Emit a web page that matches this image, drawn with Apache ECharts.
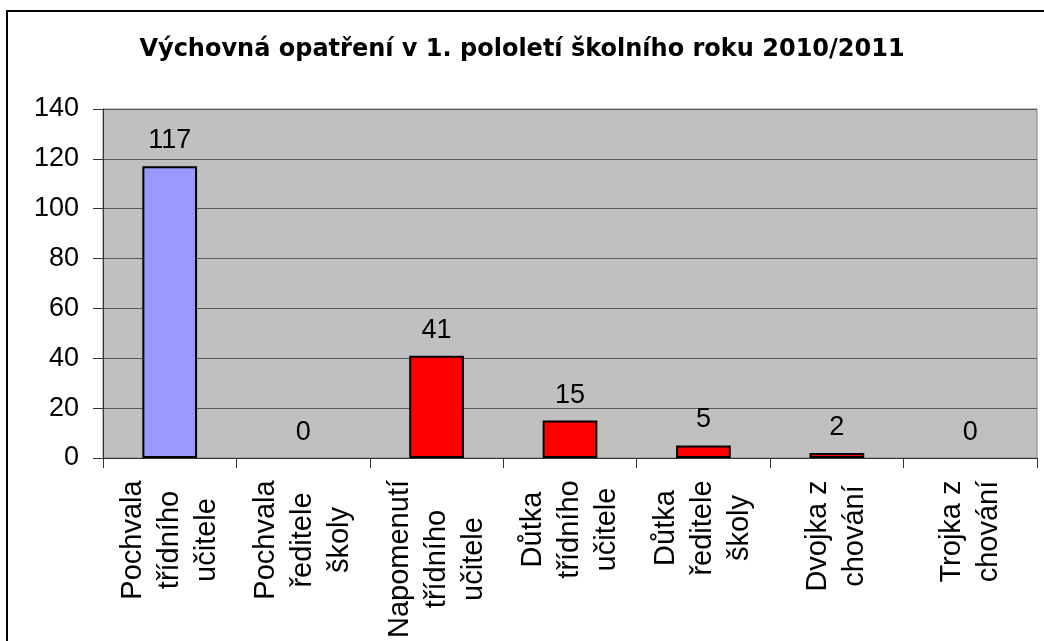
<!DOCTYPE html>
<html>
<head>
<meta charset="utf-8">
<script src="https://cdn.jsdelivr.net/npm/echarts@6/dist/echarts.min.js"></script>
<style>
  html, body { margin: 0; padding: 0; background: #fff; }
  #chart { width: 1044px; height: 641px; }
</style>
</head>
<body>
<div id="chart"></div>
<script>
// chart data
var titleText = 'Výchovná opatření v 1. pololetí školního roku 2010/2011';
var categories = [
  'Pochvala\ntřídního\nučitele',
  'Pochvala\nředitele\nškoly',
  'Napomenutí\ntřídního\nučitele',
  'Důtka\ntřídního\nučitele',
  'Důtka\nředitele\nškoly',
  'Dvojka z\nchování',
  'Trojka z\nchování'
];
var values = [117, 0, 41, 15, 5, 2, 0];
var yTicks = [0, 20, 40, 60, 80, 100, 120, 140];

var labelFamily = '"Liberation Sans", Arial, sans-serif';

// lines of each category label are centred on the widest one
var ctx = document.createElement('canvas').getContext('2d');
ctx.font = '29px ' + labelFamily;
var rich = {};
categories.forEach(function (c, i) {
  var w = 0;
  c.split('\n').forEach(function (l) {
    w = Math.max(w, ctx.measureText(l).width);
  });
  rich['c' + i] = {
    width: Math.ceil(w),
    align: 'center',
    fontSize: 29,
    lineHeight: 37,
    fontFamily: labelFamily,
    color: '#000'
  };
});

var chart = echarts.init(document.getElementById('chart'), null, { renderer: 'canvas' });
chart.setOption({
  backgroundColor: '#ffffff',
  animation: false,
  title: {
    text: titleText,
    left: 'center',
    top: 33,
    textStyle: {
      fontFamily: '"DejaVu Sans", sans-serif',
      fontWeight: 'bold',
      fontSize: 24,
      color: '#000'
    }
  },
  graphic: [{
    type: 'rect',
    shape: { x: 7, y: 11, width: 1100, height: 700 },
    style: { fill: 'none', stroke: '#000', lineWidth: 2 },
    silent: true,
    z: 100
  }],
  grid: {
    left: 103,
    top: 109,
    right: 7,
    bottom: 178,
    show: true,
    backgroundColor: '#C0C0C0',
    borderColor: '#808080',
    borderWidth: 1
  },
  xAxis: {
    type: 'category',
    data: categories,
    axisLine: { lineStyle: { color: '#333', width: 1 } },
    axisTick: { show: true, length: 10, lineStyle: { color: '#333' } },
    axisLabel: {
      interval: 0,
      rotate: 90,
      margin: 22,
      lineHeight: 37,
      formatter: function (value, index) {
        return value.split('\n').map(function (l) {
          return '{c' + index + '|' + l + '}';
        }).join('\n');
      },
      rich: rich
    }
  },
  yAxis: {
    type: 'value',
    min: yTicks[0],
    max: yTicks[yTicks.length - 1],
    interval: 20,
    axisLine: { show: true, lineStyle: { color: '#333', width: 1 } },
    axisTick: { show: true, length: 10, lineStyle: { color: '#333' } },
    axisLabel: {
      margin: 24,
      fontSize: 27,
      fontFamily: labelFamily,
      color: '#000'
    },
    splitLine: { show: true, lineStyle: { color: '#5a5a5a', width: 1 } }
  },
  series: [{
    type: 'bar',
    barWidth: '41%',
    data: values.map(function (v, i) {
      return {
        value: v,
        itemStyle: {
          color: i === 0 ? '#9999FF' : '#FF0000',
          borderWidth: v === 0 ? 0 : 2
        }
      };
    }),
    itemStyle: { borderColor: '#000', borderWidth: 2 },
    label: {
      show: true,
      position: 'top',
      distance: 12,
      fontSize: 27,
      fontFamily: labelFamily,
      color: '#000'
    }
  }]
});
</script>
</body>
</html>
